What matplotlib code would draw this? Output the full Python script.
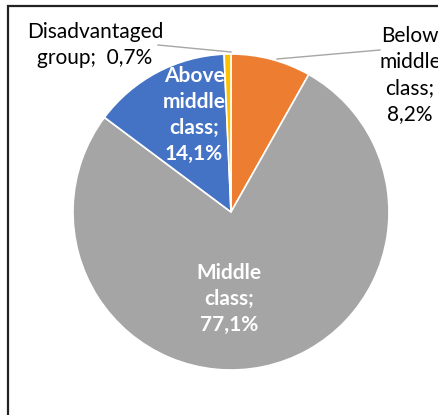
import matplotlib
matplotlib.use("Agg")
import matplotlib.pyplot as plt
from matplotlib.patches import Rectangle

# Income-group shares (percent), clockwise from 12 o'clock
categories = ["Below\nmiddle\nclass", "Middle\nclass", "Above\nmiddle\nclass", "Disadvantaged\ngroup"]
shares = [8.2, 77.1, 14.1, 0.7]
colors = ["#ED7D31", "#A5A5A5", "#4472C4", "#FFC000"]

W, H, DPI = 439, 415, 100
CX, CY, R = 231, 212, 158  # pie centre and radius in pixels

def px(x, y):
    """Pixel position -> data coordinates of the pie axes."""
    return ((x - CX) / R, (CY - y) / R)

fig = plt.figure(figsize=(W / DPI, H / DPI), dpi=DPI)
ax = fig.add_axes([0, 0, 1, 1])
ax.pie(shares, colors=colors, startangle=90, counterclock=False,
       wedgeprops=dict(edgecolor="white", linewidth=1.2))
ax.set_xlim(-CX / R, (W - CX) / R)
ax.set_ylim(-(H - CY) / R, CY / R)
ax.set_aspect("equal", adjustable="box")
ax.axis("off")

# label layout: (centre in pixels, separator, colour, weight)
layout = [
    ((410, 75), ";\n", "black", "normal"),
    ((229, 299), ";\n", "white", "bold"),
    ((194, 115), ";\n", "white", "bold"),
    ((95, 45), ";  ", "black", "normal"),
]
font = "Lato"
for cat, val, (pos, sep, col, wt) in zip(categories, shares, layout):
    txt = f"{cat}{sep}{val:.1f}%".replace(".", ",")
    ax.text(*px(*pos), txt, ha="center", va="center", color=col,
            fontsize=15, fontweight=wt, family=font, linespacing=1.36)

# leader lines to the small outer slices
leaders = [((277, 59), (380, 50)), ((158, 45), (231, 52))]
for (x0, y0), (x1, y1) in leaders:
    a, b = px(x0, y0), px(x1, y1)
    ax.plot([a[0], b[0]], [a[1], b[1]], color="#A6A6A6", lw=1)

# chart-area frame (extends past the right and bottom edges)
fig.patches.append(Rectangle((8 / W, -0.1), 1.2, (H - 6) / H + 0.1,
                             transform=fig.transFigure, fill=False,
                             edgecolor="#222222", linewidth=1.6))

fig.savefig("out.png", dpi=DPI, facecolor="white")
